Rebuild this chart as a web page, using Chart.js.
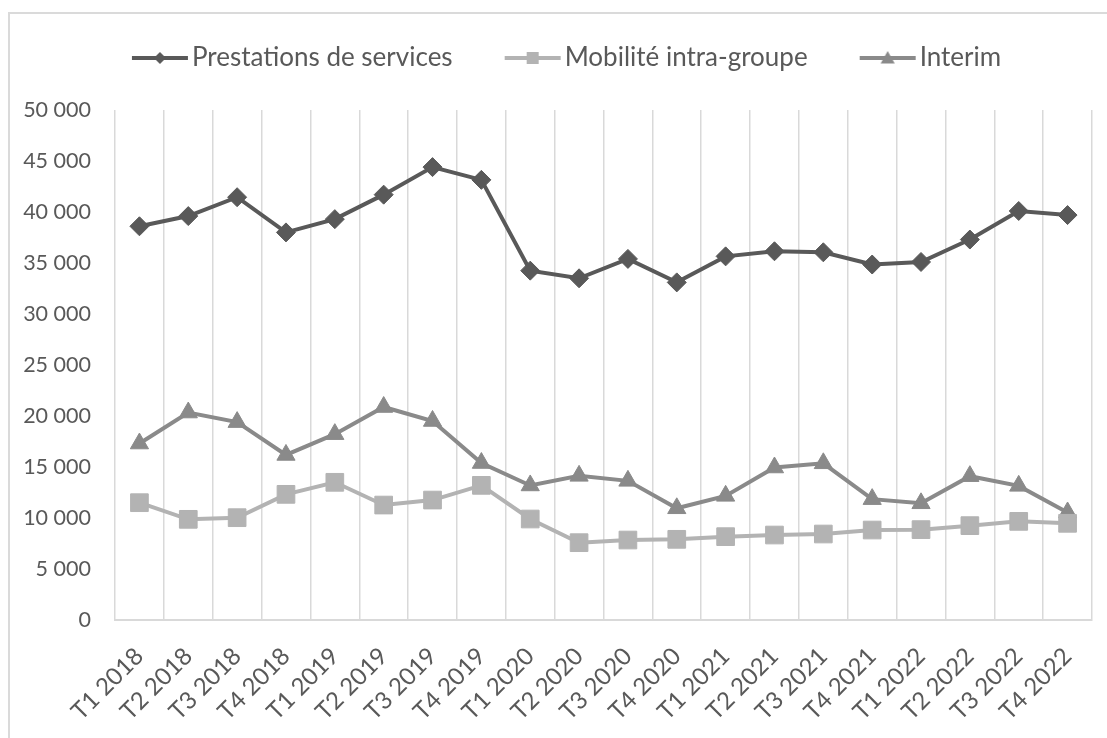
<!DOCTYPE html>
<html>
<head>
<meta charset="utf-8">
<script src="https://cdn.jsdelivr.net/npm/chart.js@4/dist/chart.umd.min.js"></script>
<style>
  html, body { margin: 0; padding: 0; background: #ffffff; }
  #frame { position: absolute; left: 8px; top: 12px; width: 1300px; height: 900px; border: 2px solid #dadada; box-sizing: border-box; }
  #c { position: absolute; left: 0; top: 0; }
</style>
</head>
<body>
<div id="frame"></div>
<canvas id="c" width="1107" height="738"></canvas>
<script>
const categories = ["T1 2018","T2 2018","T3 2018","T4 2018","T1 2019","T2 2019","T3 2019","T4 2019","T1 2020","T2 2020","T3 2020","T4 2020","T1 2021","T2 2021","T3 2021","T4 2021","T1 2022","T2 2022","T3 2022","T4 2022"];
const prestations = [38600, 39600, 41450, 38000, 39300, 41700, 44400, 43150, 34250, 33500, 35400, 33100, 35650, 36150, 36050, 34850, 35100, 37300, 40100, 39700];
const mobilite = [11500, 9870, 10030, 12320, 13500, 11270, 11760, 13200, 9900, 7580, 7840, 7910, 8170, 8330, 8430, 8820, 8860, 9250, 9670, 9480];
const interim = [17300, 20340, 19400, 16180, 18220, 20880, 19510, 15390, 13190, 14130, 13640, 10950, 12170, 14950, 15360, 11850, 11440, 14100, 13150, 10540];
const seriesNames = ["Prestations de services", "Mobilité intra-groupe", "Interim"];
const yTicksMin = 0, yTicksMax = 50000, yTicksStep = 5000;

const colors = ["#595959", "#b3b3b3", "#8a8a8a"];
const FS = 26;      // legend font size
const BOXW = 66;

function legendImage(color, kind) {
  const W = BOXW + FS, H = 26;
  const cv = document.createElement('canvas');
  cv.width = W; cv.height = H;
  const g = cv.getContext('2d');
  g.strokeStyle = color; g.fillStyle = color; g.lineWidth = 4;
  const x1 = W - 60, x2 = W - 4, cy = H / 2, cx = (x1 + x2) / 2;
  g.beginPath(); g.moveTo(x1, cy); g.lineTo(x2, cy); g.stroke();
  g.beginPath();
  if (kind === 'diamond') {
    g.moveTo(cx, cy - 6); g.lineTo(cx + 6, cy); g.lineTo(cx, cy + 6); g.lineTo(cx - 6, cy);
  } else if (kind === 'square') {
    g.rect(cx - 6, cy - 6, 12, 12);
  } else {
    g.moveTo(cx, cy - 7); g.lineTo(cx + 7, cy + 5.5); g.lineTo(cx - 7, cy + 5.5);
  }
  g.closePath(); g.fill();
  return cv;
}
const legendImgs = [legendImage(colors[0], 'diamond'), legendImage(colors[1], 'square'), legendImage(colors[2], 'triangle')];

function fmt(v) { return String(v).replace(/\B(?=(\d{3})+(?!\d))/g, ' '); }

new Chart(document.getElementById('c'), {
  type: 'line',
  data: {
    labels: categories,
    datasets: [
      { label: seriesNames[0], data: prestations, borderColor: colors[0], backgroundColor: colors[0], borderWidth: 4,
        pointStyle: 'rectRot', pointRadius: 9.5, pointHoverRadius: 9.5, pointBorderWidth: 1, pointBackgroundColor: colors[0], pointBorderColor: colors[0] },
      { label: seriesNames[1], data: mobilite, borderColor: colors[1], backgroundColor: colors[1], borderWidth: 4,
        pointStyle: 'rect', pointRadius: 12.5, pointHoverRadius: 12.5, pointBorderWidth: 1, pointBackgroundColor: colors[1], pointBorderColor: colors[1] },
      { label: seriesNames[2], data: interim, borderColor: colors[2], backgroundColor: colors[2], borderWidth: 4,
        pointStyle: 'triangle', pointRadius: 10.5, pointHoverRadius: 10.5, pointBorderWidth: 1, pointBackgroundColor: colors[2], pointBorderColor: colors[2] }
    ]
  },
  options: {
    responsive: false,
    animation: false,
    devicePixelRatio: 1,
    layout: { padding: { left: 22, right: 15, top: 12, bottom: 0 } },
    plugins: {
      tooltip: { enabled: false },
      title: { display: true, text: '', font: { size: 12, lineHeight: 1 }, padding: { top: 8, bottom: 9 }, weight: 2000 },
      legend: {
        display: true, position: 'top', weight: 3000,
        labels: {
          usePointStyle: true, pointStyleWidth: BOXW, padding: 33, color: '#595959',
          font: { family: 'Lato', size: FS },
          generateLabels: (chart) => chart.data.datasets.map((ds, i) => ({
            text: ds.label, pointStyle: legendImgs[i], fillStyle: 'rgba(0,0,0,0)', strokeStyle: 'rgba(0,0,0,0)',
            lineWidth: 0, hidden: false, datasetIndex: i, fontColor: '#595959'
          }))
        }
      }
    },
    scales: {
      x: {
        offset: true,
        grid: { display: true, offset: true, color: '#d9d9d9', lineWidth: 1.5, drawTicks: false },
        border: { display: true, color: '#d9d9d9', width: 2 },
        ticks: { color: '#595959', font: { family: 'Lato', size: 24 }, minRotation: 45, maxRotation: 45, padding: 22, autoSkip: false },
        afterFit: (s) => { s.height = 118; s.paddingLeft = 0; s.paddingRight = 0; }
      },
      y: {
        min: yTicksMin, max: yTicksMax,
        grid: { display: false, drawTicks: false },
        border: { display: false },
        ticks: { stepSize: yTicksStep, color: '#595959', font: { family: 'Lato', size: 21.5 }, padding: 24, callback: (v) => fmt(v) },
        afterFit: (s) => { s.width = 93; }
      }
    }
  }
});
</script>
</body>
</html>
